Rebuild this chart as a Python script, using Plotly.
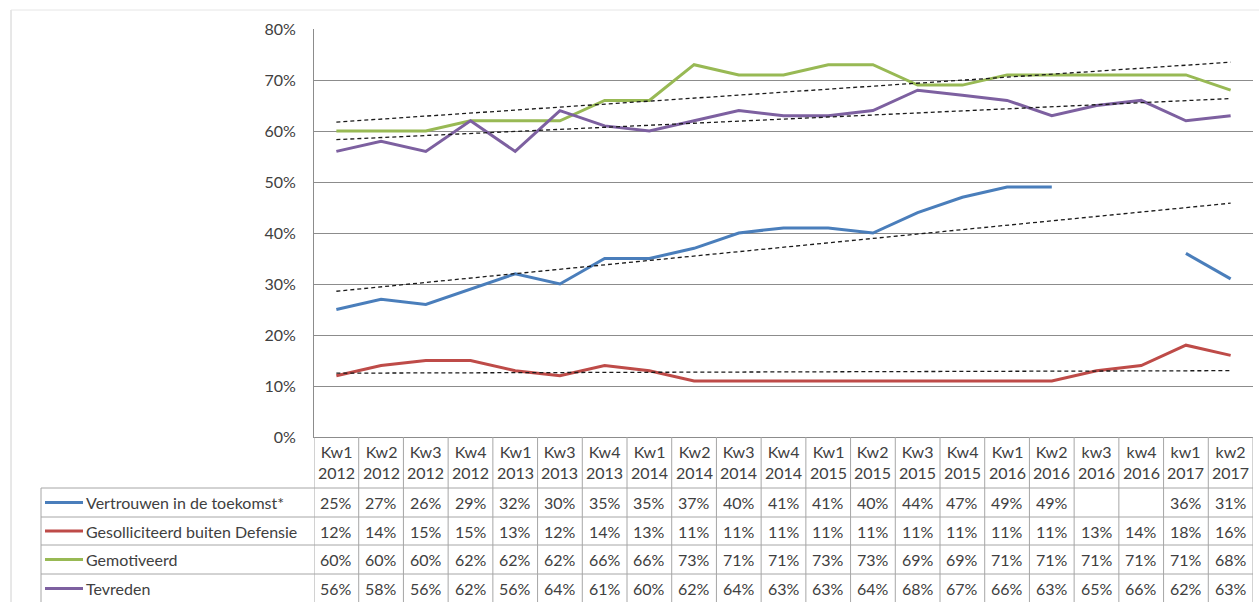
import numpy as np
import plotly.graph_objects as go

quarters = ["Kw1", "Kw2", "Kw3", "Kw4", "Kw1", "Kw3", "Kw4", "Kw1", "Kw2", "Kw3", "Kw4",
            "Kw1", "Kw2", "Kw3", "Kw4", "Kw1", "Kw2", "kw3", "kw4", "kw1", "kw2"]
years = ["2012", "2012", "2012", "2012", "2013", "2013", "2013", "2014", "2014", "2014", "2014",
         "2015", "2015", "2015", "2015", "2016", "2016", "2016", "2016", "2017", "2017"]

vertrouwen = [25, 27, 26, 29, 32, 30, 35, 35, 37, 40, 41, 41, 40, 44, 47, 49, 49, None, None, 36, 31]
gesolliciteerd = [12, 14, 15, 15, 13, 12, 14, 13, 11, 11, 11, 11, 11, 11, 11, 11, 11, 13, 14, 18, 16]
gemotiveerd = [60, 60, 60, 62, 62, 62, 66, 66, 73, 71, 71, 73, 73, 69, 69, 71, 71, 71, 71, 71, 68]
tevreden = [56, 58, 56, 62, 56, 64, 61, 60, 62, 64, 63, 63, 64, 68, 67, 66, 63, 65, 66, 62, 63]

series_names = ["Vertrouwen in de toekomst*", "Gesolliciteerd buiten Defensie", "Gemotiveerd", "Tevreden"]
series_values = [vertrouwen, gesolliciteerd, gemotiveerd, tevreden]
series_colors = ["#4A7EBB", "#BE4B48", "#98B954", "#7D60A0"]

categories = [f"{q}<br>{y}" for q, y in zip(quarters, years)]
n = len(categories)
idx = np.arange(n)

FONT = "Lato"
TXT = "#404040"
GRID = "#8c8c8c"
TAB = "#a6a6a6"
TSIZE = 16

fig = go.Figure()

# series lines
for name, vals, col in zip(series_names, series_values, series_colors):
    fig.add_trace(go.Scatter(x=categories, y=vals, mode="lines", name=name,
                             line=dict(color=col, width=3), connectgaps=False,
                             showlegend=False))

# linear trend lines (Excel-style, x = 1..n, blanks ignored)
for vals in series_values:
    arr = np.array([np.nan if v is None else v for v in vals], dtype=float)
    m = ~np.isnan(arr)
    xs = idx + 1
    k, b = np.polyfit(xs[m], arr[m], 1)
    trend = k * xs + b
    fig.add_trace(go.Scatter(x=categories, y=trend, mode="lines",
                             line=dict(color="#1a1a1a", width=1.3, dash="4px,3px"),
                             showlegend=False, hoverinfo="skip"))

# ---- layout geometry (pixels) ----
W, H = 1259, 602
L, R, T, B = 314, 6, 29, 165
plot_w = W - L - R
plot_h = H - T - B


def py(p):  # pixel y -> paper
    return (H - B - p) / plot_h


def px(p):  # pixel x -> paper
    return (p - L) / plot_w


shapes = []
annotations = []

# outer frame
shapes.append(dict(type="line", xref="paper", yref="paper", x0=px(11), x1=px(11), y0=py(10), y1=py(610),
                   line=dict(color="#d0d0d0", width=1)))
shapes.append(dict(type="line", xref="paper", yref="paper", x0=px(11), x1=px(1270), y0=py(10), y1=py(10),
                   line=dict(color="#e6e6e6", width=1)))

# table rows (pixel boundaries)
row_tops = [488, 517, 545, 574]
row_bottom = 603
header_top = H - B

# vertical column lines
for k in range(n + 1):
    shapes.append(dict(type="line", xref="x", yref="paper", x0=k - 0.5, x1=k - 0.5,
                       y0=py(header_top), y1=py(row_bottom), line=dict(color=TAB, width=1)))
# left border of legend column
shapes.append(dict(type="line", xref="paper", yref="paper", x0=px(41), x1=px(41),
                   y0=py(row_tops[0]), y1=py(row_bottom), line=dict(color=TAB, width=1)))
# horizontal lines
for rt in row_tops:
    shapes.append(dict(type="line", xref="paper", yref="paper", x0=px(41), x1=1,
                       y0=py(rt), y1=py(rt), line=dict(color=TAB, width=1)))

# header labels
for c in categories:
    annotations.append(dict(x=c, xref="x", y=py(462), yref="paper", text=c, showarrow=False,
                            font=dict(family=FONT, size=TSIZE, color=TXT), align="center",
                            xanchor="center", yanchor="middle"))

# rows
for r, (name, vals, col) in enumerate(zip(series_names, series_values, series_colors)):
    top = row_tops[r]
    bot = row_tops[r + 1] if r + 1 < len(row_tops) else row_bottom
    yc = py((top + bot) / 2)
    shapes.append(dict(type="line", xref="paper", yref="paper", x0=px(45), x1=px(83), y0=yc, y1=yc,
                       line=dict(color=col, width=3)))
    annotations.append(dict(x=px(84), xref="paper", y=yc, yref="paper", text=name, showarrow=False,
                            font=dict(family=FONT, size=TSIZE, color=TXT), xanchor="left", yanchor="middle"))
    for c, v in zip(categories, vals):
        if v is None:
            continue
        annotations.append(dict(x=c, xref="x", y=yc, yref="paper", text=f"{v}%", showarrow=False,
                                font=dict(family=FONT, size=TSIZE, color=TXT),
                                xanchor="center", yanchor="middle"))

fig.update_layout(
    width=W, height=H,
    margin=dict(l=L, r=R, t=T, b=B, pad=0),
    plot_bgcolor="white", paper_bgcolor="white",
    shapes=shapes, annotations=annotations,
    showlegend=False,
)
fig.update_xaxes(type="category", range=[-0.5, n - 0.5], showticklabels=False, showgrid=False,
                 showline=True, linecolor=GRID, linewidth=1, ticks="", zeroline=False)
fig.update_yaxes(range=[0, 80], dtick=10, ticksuffix="%", showgrid=True, gridcolor=GRID, gridwidth=1,
                 showline=True, linecolor=GRID, linewidth=1, ticks="", zeroline=False,
                 ticklabelstandoff=14,
                 tickfont=dict(family=FONT, size=16, color=TXT))

fig.write_html("out.html", config={"displayModeBar": False},
               post_script="document.body.style.margin='0';document.body.style.overflow='hidden';")
